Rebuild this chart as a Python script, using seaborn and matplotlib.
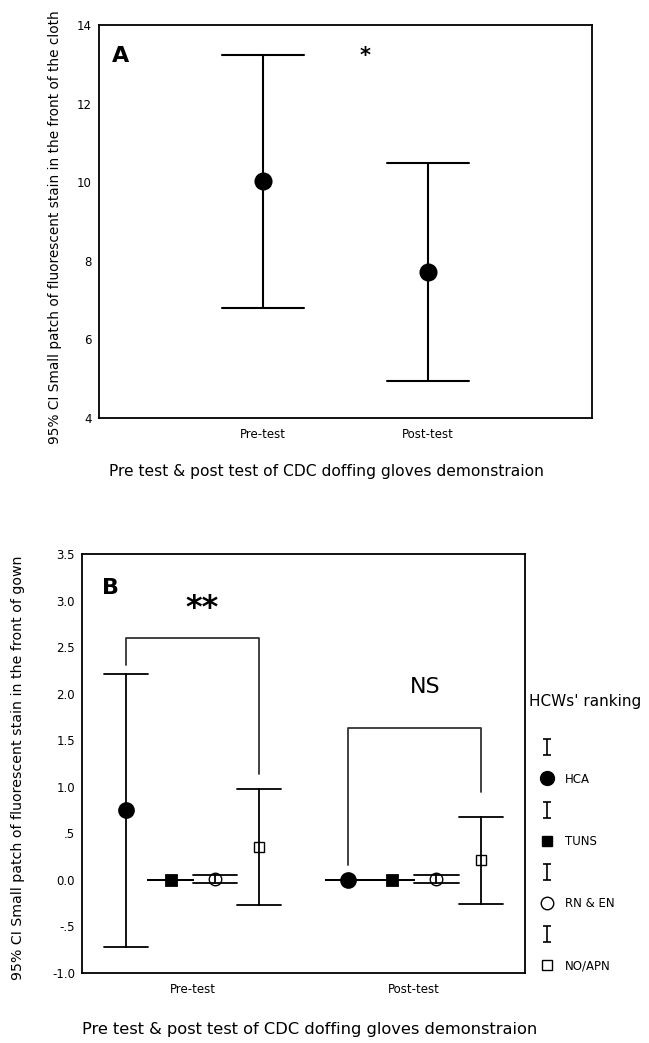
import numpy as np
import pandas as pd
import matplotlib
matplotlib.use("Agg")
import matplotlib.pyplot as plt
from matplotlib.lines import Line2D
from matplotlib.path import Path
import seaborn as sns

sns.set_style("white")
plt.rcParams['font.family'] = ['DejaVu Sans']
plt.rcParams.update({"text.color": "black", "axes.labelcolor": "black",
                     "xtick.color": "black", "ytick.color": "black"})

# Panel A: mean and 95% CI
tests = ["Pre-test", "Post-test"]
a_mean = [10.03, 7.72]
a_low = [6.80, 4.95]
a_high = [13.24, 10.49]

# Panel B: by HCWs' ranking
ranks = ["HCA", "TUNS", "RN & EN", "NO/APN"]
b_pre_mean = [0.75, 0.0, 0.01, 0.35]
b_pre_low = [-0.72, 0.0, -0.03, -0.27]
b_pre_high = [2.21, 0.0, 0.05, 0.98]
b_post_mean = [0.0, 0.0, 0.01, 0.21]
b_post_low = [0.0, 0.0, -0.03, -0.26]
b_post_high = [0.0, 0.0, 0.05, 0.68]

# significance brackets: (left leg end, top, right leg end)
bracket_pre = (2.31, 2.60, 1.14)
bracket_post = (0.16, 1.63, 0.94)

# long tables: each group holds low/mean/high, median gives the mean, min/max the CI
rows = []
for t, m, lo, hi in zip(tests, a_mean, a_low, a_high):
    for v in (lo, m, hi):
        rows.append({"test": t, "value": v})
df_a = pd.DataFrame(rows)

rows = []
for t, means, lows, highs in [(tests[0], b_pre_mean, b_pre_low, b_pre_high),
                              (tests[1], b_post_mean, b_post_low, b_post_high)]:
    for r, m, lo, hi in zip(ranks, means, lows, highs):
        for v in (lo, m, hi):
            rows.append({"test": t, "rank": r, "value": v})
df_b = pd.DataFrame(rows)

ci = lambda v: (np.min(v), np.max(v))

fig = plt.figure(figsize=(6.49, 10.43), dpi=100)
ax1 = fig.add_axes([0.1525, 0.5992, 0.7596, 0.3768])
ax2 = fig.add_axes([0.1263, 0.0671, 0.6826, 0.4017])

# ---- panel A
sns.pointplot(data=df_a, x="test", y="value", order=tests, estimator="median",
              errorbar=ci, capsize=0.5, color="black", linestyle="none",
              markersize=11, err_kws={"linewidth": 1.5}, ax=ax1)
ax1.set_xlim(-1, 2)
ax1.set_ylim(4, 14)
ax1.set_yticks([4, 6, 8, 10, 12, 14])
ax1.text(0.027, 0.92, "A", transform=ax1.transAxes, fontsize=16, fontweight="bold",
         va="center", ha="left")
ax1.text(0.62, 13.2, "*", fontsize=15, fontweight="bold", ha="center", va="center")
ax1.set_xlabel("Pre test & post test of CDC doffing gloves demonstraion", fontsize=11.2)
ax1.xaxis.set_label_coords(0.462, -0.118)
ax1.set_ylabel("95% CI Small patch of fluorescent stain in the front of the cloth", fontsize=9.8)
ax1.yaxis.set_label_coords(-0.075, 0.486)

# ---- panel B
sns.pointplot(data=df_b, x="test", y="value", hue="rank", order=tests, hue_order=ranks,
              estimator="median", errorbar=ci, capsize=0.2, dodge=0.6,
              palette=["black"] * 4, markers=["o", "s", "o", "s"], linestyle="none",
              markersize=8, err_kws={"linewidth": 1.3}, legend=False, ax=ax2)
mlines = [l for l in ax2.lines if l.get_marker() not in (None, "None", "")]
for l, ms, open_ in zip(mlines, [10, 7, 9, 7], [False, False, True, True]):
    l.set_markersize(ms)
    l.set_zorder(5)
    if open_:
        l.set_markerfacecolor("none")
        l.set_markeredgewidth(1.0)
ax2.set_xlim(-0.5, 1.5)
ax2.set_ylim(-1.0, 3.5)
yt = [-1.0, -0.5, 0.0, 0.5, 1.0, 1.5, 2.0, 2.5, 3.0, 3.5]
ax2.set_yticks(yt)
ax2.set_yticklabels(["-1.0", "-.5", "0.0", ".5", "1.0", "1.5", "2.0", "2.5", "3.0", "3.5"])

for gi, (lo_l, top, lo_r) in enumerate([bracket_pre, bracket_post]):
    xl, xr = gi - 0.3, gi + 0.3
    ax2.plot([xl, xl, xr, xr], [lo_l, top, top, lo_r], color="#333333", lw=1.3)
ax2.text(0.04, 2.92, "**", fontsize=23, fontweight="bold", ha="center", va="center")
ax2.text(1.05, 2.07, "NS", fontsize=16, ha="center", va="center")
ax2.text(0.045, 0.919, "B", transform=ax2.transAxes, fontsize=16, fontweight="bold",
         va="center", ha="left")
ax2.set_xlabel("Pre test & post test of CDC doffing gloves demonstraion", fontsize=11.7)
ax2.xaxis.set_label_coords(0.515, -0.118)
ax2.set_ylabel("95% CI Small patch of fluorescent stain in the front of gown", fontsize=10.2)
ax2.yaxis.set_label_coords(-0.128, 0.49)

# legend: error bar icon rows alternating with marker rows
bar_icon = Path([(-0.5, 1), (0.5, 1), (0, 1), (0, -1), (-0.5, -1), (0.5, -1)],
                [Path.MOVETO, Path.LINETO, Path.MOVETO, Path.LINETO, Path.MOVETO, Path.LINETO])
handles, labels = [], []
for r, mk, fc, ms in zip(ranks, ["o", "s", "o", "s"], ["black", "black", "white", "white"],
                         [10, 7, 9, 7]):
    handles.append(Line2D([], [], marker=bar_icon, ls="none", color="black",
                          markersize=12, markeredgewidth=1.2))
    labels.append("")
    handles.append(Line2D([], [], marker=mk, ls="none", color="black", markerfacecolor=fc,
                          markersize=ms, markeredgewidth=1.0))
    labels.append(r)
leg = ax2.legend(handles, labels, loc="upper left", bbox_to_anchor=(1.01, 0.665),
                 frameon=False, fontsize=8.5, title="HCWs' ranking", title_fontsize=11,
                 alignment="left", handlelength=2.9, handletextpad=0.1,
                 labelspacing=1.54, borderaxespad=0, borderpad=0)
leg._legend_box.sep = 23

for ax in (ax1, ax2):
    for s in ax.spines.values():
        s.set_visible(True)
        s.set_color("black")
        s.set_linewidth(1.3)
    ax.tick_params(axis="both", direction="out", length=3, width=2, colors="black",
                   labelsize=8.5, pad=2)
    ax.tick_params(axis="x", labelsize=8.5, pad=4)

fig.savefig("out.png", dpi=100)
